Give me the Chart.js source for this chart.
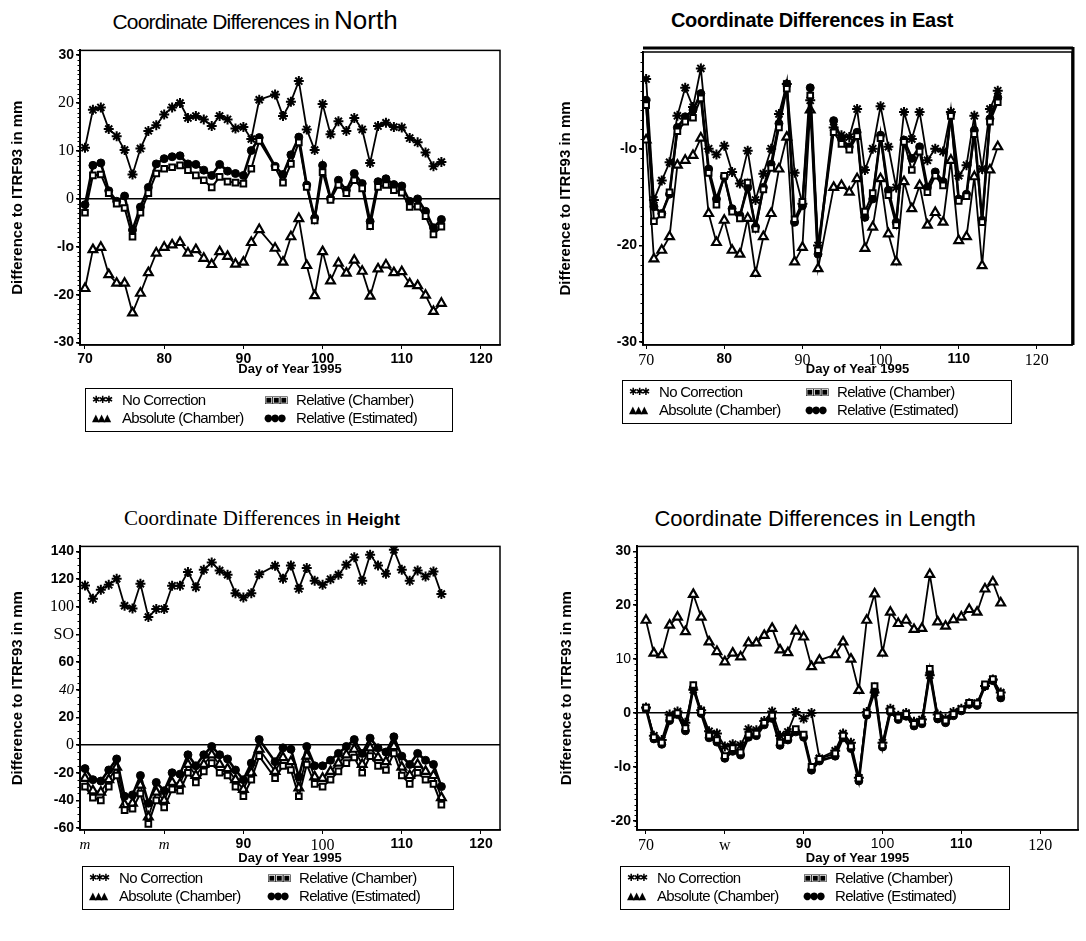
<!DOCTYPE html>
<html>
<head>
<meta charset="utf-8">
<script src="https://cdn.jsdelivr.net/npm/chart.js@4"></script>
<style>
body { margin: 0; background: #fff; width: 1086px; height: 941px; position: relative; overflow: hidden; font-family: 'Liberation Sans', Arial, sans-serif; color: #000; }
canvas { position: absolute; }
.title { position: absolute; white-space: nowrap; transform: translate(-50%, -50%); }
.legend { position: absolute; border: 1.5px solid #000; font-size: 15px; letter-spacing: -0.7px; }
.legend span { position: absolute; white-space: nowrap; line-height: 17px; }
.legend .sym { font-family: 'DejaVu Sans'; font-size: 10px; letter-spacing: -2px; }
</style>
</head>
<body>

<div class="title" style="left:255px;top:20px;font-size:21px;letter-spacing:-0.8px">Coordinate Differences in <span style="font-size:26px;letter-spacing:0">North</span></div>
<div class="title" style="left:812px;top:20px;font-size:20px;font-weight:bold;letter-spacing:-0.3px">Coordinate Differences in East</div>
<div class="title" style="left:262px;top:518px;font-family:'Liberation Serif';font-size:21px">Coordinate Differences in <span style="font-family:'Liberation Sans';font-weight:bold;font-size:17px">Height</span></div>
<div class="title" style="left:815px;top:519px;font-size:22px">Coordinate Differences in Length</div>

<canvas id="north" width="520" height="350" style="left:0;top:40px"></canvas>
<canvas id="east" width="546" height="350" style="left:540px;top:40px"></canvas>
<canvas id="height" width="520" height="335" style="left:0;top:536px"></canvas>
<canvas id="length" width="546" height="335" style="left:540px;top:536px"></canvas>

<div id="lgNorth" class="legend" style="left:85px;top:388px;width:366px;height:42px"></div>
<div id="lgEast" class="legend" style="left:622px;top:380px;width:388px;height:42px"></div>
<div id="lgHeight" class="legend" style="left:82px;top:866px;width:370px;height:42px"></div>
<div id="lgLength" class="legend" style="left:620px;top:866px;width:388px;height:42px"></div>

<script>
// day of year for each observation
const days = [70,71,72,73,74,75,76,77,78,79,80,81,82,83,84,85,86,87,88,89,90,91,92,
              94,95,96,97,98,99,100,101,102,103,104,105,106,107,108,109,110,111,112,113,114,115];

const seriesNames = ['No Correction', 'Absolute (Chamber)', 'Relative (Chamber)', 'Relative (Estimated)'];

// North
const northNoCorr = [10.7,18.6,19.1,14.6,13.1,10.2,5.1,10.5,14.2,15.4,17.6,19.1,20.0,16.9,17.3,16.6,15.2,17.3,16.6,14.7,15.0,12.5,20.7,21.8,17.3,20.3,24.6,14.5,10.2,19.8,13.5,16.2,14.2,16.9,14.5,7.5,15.2,15.9,15.0,14.9,12.7,11.8,9.7,6.8,7.7];
const northAbs = [-18.7,-10.6,-10.1,-15.8,-17.6,-17.6,-23.8,-19.7,-15.4,-11.3,-10.1,-9.6,-9.1,-11.3,-10.6,-12.4,-13.7,-11.0,-12.0,-13.6,-13.2,-9.1,-6.4,-10.3,-13.2,-7.9,-4.1,-13.9,-20.2,-11.0,-17.1,-13.4,-15.5,-12.8,-15.1,-20.3,-14.6,-13.8,-15.4,-15.2,-17.7,-18.1,-20.1,-23.5,-21.8];
const northRelCh = [-2.9,4.9,5.1,1.2,-1.0,-1.9,-7.9,-2.9,1.2,5.3,6.3,6.6,7.0,6.0,4.9,3.9,2.4,4.6,3.6,3.4,3.2,6.3,12.1,6.6,3.4,7.3,11.8,2.5,-4.5,5.6,-0.2,2.9,1.2,3.9,2.2,-5.7,2.5,2.9,1.8,1.3,-1.7,-1.6,-3.6,-7.4,-5.8];
const northRelEst = [-1.2,7.0,7.5,1.7,-0.5,0.6,-6.5,-1.7,2.4,7.3,8.4,8.8,9.0,7.3,7.2,6.0,4.9,7.2,5.8,5.3,4.9,10.1,12.8,6.8,5.1,9.2,12.9,2.9,-4.0,7.0,0.1,3.9,1.8,5.3,3.2,-4.7,3.6,4.2,3.0,2.7,-0.5,0.0,-2.6,-6.0,-4.3];

// East
const eastNoCorr = [-2.8,-15.3,-13.3,-11.4,-6.6,-3.7,-5.7,-1.7,-10.0,-10.6,-9.7,-12.4,-13.6,-10.2,-15.3,-12.6,-10.0,-6.4,-3.3,-12.5,-15.7,-5.0,-20.0,-7.8,-8.6,-8.8,-5.9,-12.2,-10.0,-5.6,-9.8,-14.0,-6.2,-9.0,-6.2,-11.2,-10.0,-10.3,-6.2,-12.8,-11.7,-6.6,-12.1,-5.9,-4.0];
const eastAbs = [-9.1,-21.4,-20.5,-19.1,-11.7,-11.2,-10.7,-8.9,-16.7,-19.7,-17.4,-20.5,-20.9,-17.2,-22.9,-19.1,-16.7,-12.1,-8.8,-21.7,-20.2,-6.0,-22.4,-14.0,-13.8,-14.5,-13.1,-20.3,-18.1,-13.1,-18.8,-21.7,-13.4,-16.2,-13.8,-17.9,-16.6,-17.6,-11.2,-19.5,-19.1,-12.9,-22.1,-12.2,-9.8];
const eastRelCh = [-5.5,-17.5,-16.8,-14.5,-8.2,-7.2,-6.8,-4.8,-12.5,-15.8,-12.8,-16.5,-17.2,-13.5,-18.3,-14.2,-12.0,-7.8,-3.8,-17.3,-15.5,-4.5,-20.5,-8.3,-9.5,-10.1,-8.7,-16.5,-14.6,-8.9,-14.8,-17.9,-9.3,-12.2,-10.3,-14.5,-12.8,-13.8,-6.6,-15.4,-14.9,-8.5,-17.6,-7.2,-5.2];
const eastRelEst = [-5.0,-16.0,-16.7,-14.7,-7.8,-6.7,-6.0,-4.3,-12.1,-15.2,-12.9,-16.2,-16.9,-14.0,-18.1,-14.0,-11.6,-7.4,-3.3,-17.6,-15.9,-3.7,-20.9,-7.1,-9.0,-9.8,-8.3,-17.1,-15.2,-8.6,-14.3,-17.6,-9.1,-11.0,-9.8,-14.0,-12.4,-13.4,-6.4,-15.2,-14.7,-8.1,-17.4,-6.9,-4.7];

// Height
const heightNoCorr = [115.5,105.8,112.3,115.9,120.3,100.8,98.8,116.7,92.6,98.4,98.4,115.2,115.2,125.1,114.2,126.8,132.1,126.3,123.2,109.9,106.8,109.9,123.6,129.7,120.3,129.9,113.0,128.0,118.8,115.9,120.0,123.2,130.4,135.9,118.8,137.6,129.9,123.9,141.2,126.8,118.8,126.3,122.0,125.6,109.2];
const heightAbs = [-24,-33,-34,-25,-16,-43,-42,-29,-52,-34,-40,-27,-28,-14,-22,-14,-7,-14,-17,-25,-32,-20,-3,-19,-9,-12,-31,-8,-23,-24,-19,-13,-7,-3,-14,-2,-9,-12,-1,-16,-22,-14,-19,-22,-38];
const heightRelCh = [-30,-38,-40,-30,-22,-47,-46,-35,-57,-40,-45,-32,-33,-20,-27,-19,-13,-20,-22,-30,-37,-25,-8,-24,-15,-18,-37,-14,-28,-30,-25,-19,-13,-9,-20,-8,-15,-18,-6,-22,-28,-20,-25,-28,-43];
const heightRelEst = [-17,-25,-26,-18,-10,-37,-36,-22,-42,-27,-33,-20,-21,-7,-15,-7,-1,-7,-10,-18,-25,-13,4,-12,-2,-3,-23,-1,-15,-15,-11,-6,-1,4,-6,5,-2,-5,6,-8,-14,-6,-11,-14,-30];

// Length
const lengthNoCorr = [1.0,-4.2,-5.0,-0.3,0.3,-1.8,4.3,0.5,-3.4,-3.8,-6.2,-5.8,-6.0,-3.0,-3.2,-1.5,0.3,-4.2,-3.5,0.2,-1.0,0.0,-8.4,-7.0,-3.8,-5.5,-12.0,0.2,3.8,-5.5,0.8,-0.5,0.0,-1.6,-1.2,7.0,-0.3,-1.0,0.2,0.8,1.8,1.8,5.0,6.2,3.8];
const lengthAbs = [17.2,11.1,10.8,16.3,17.8,15.1,22.0,17.8,13.2,11.4,9.5,11.1,10.4,13.0,13.0,14.4,15.7,11.7,11.2,15.2,14.1,8.6,9.8,10.8,13.2,10.0,4.2,17.2,22.1,11.1,18.7,16.6,17.2,15.5,15.7,25.7,16.9,16.1,17.3,17.8,19.2,18.7,23.0,24.3,20.4];
const lengthRelCh = [1.0,-4.5,-5.5,-1.0,0.0,-2.8,5.2,0.2,-4.2,-5.0,-8.0,-6.5,-7.3,-4.0,-3.8,-1.8,-0.5,-5.5,-4.6,-3.0,-4.0,-10.0,-8.5,-7.5,-4.2,-6.2,-12.2,0.0,5.0,-6.0,0.5,-0.8,-0.2,-2.0,-1.6,8.2,-0.6,-1.4,-0.2,0.7,1.9,1.8,5.3,6.3,3.6];
const lengthRelEst = [0.8,-4.8,-5.8,-1.4,-0.3,-3.3,4.6,-0.1,-4.6,-5.4,-8.4,-7.1,-7.8,-4.5,-4.2,-2.2,-1.0,-6.0,-5.0,-3.5,-4.5,-10.6,-8.9,-8.0,-4.6,-6.6,-12.6,-0.4,4.0,-6.3,0.2,-1.2,-0.6,-2.4,-2.0,7.4,-1.1,-1.8,-0.5,0.4,1.6,1.4,5.0,6.0,2.8];

// tick values and the labels as printed
const xTickVals = [70, 80, 90, 100, 110, 120];
const northXLabels = ['70', '80', '90', '100', '110', '120'];
const eastXLabels = ['70', '80', '90', '100', '110', '120'];
const heightXLabels = ['m', 'm', '90', '100', '110', '120'];
const lengthXLabels = ['70', 'w', '90', '100', '110', '120'];

const northYVals = [30, 20, 10, 0, -10, -20, -30];
const northYLabels = ['30', '20', '10', '0', '-lo', '-20', '-30'];
const eastYVals = [-10, -20, -30];
const eastYLabels = ['-lo', '-20', '-30'];
const heightYVals = [140, 120, 100, 80, 60, 40, 20, 0, -20, -40, -60];
const heightYLabels = ['140', '120', '100', 'SO', '60', '40', '20', '0', '-20', '-40', '-60'];
const lengthYVals = [30, 20, 10, 0, -10, -20];
const lengthYLabels = ['30', '20', '10', '0', '-lo', '-20'];

// fonts (the scan mixes typefaces)
const SB = { family: 'Liberation Sans', size: 14, weight: 'bold' };
const SR = { family: 'Liberation Sans', size: 14 };
const TR = { family: 'Liberation Serif', size: 16 };
const TI = { family: 'Liberation Serif', size: 15, style: 'italic' };

const northXFonts = [SB, SB, SB, SB, SB, SB];
const eastXFonts = [TR, SB, TR, TR, SB, TR];
const heightXFonts = [TI, TI, SB, TR, SB, SB];
const lengthXFonts = [TR, TR, SB, SR, SB, TR];
const northYFonts = [SB, TR, TR, TR, SB, SB, SB];
const eastYFonts = [SB, SB, SB];
const heightYFonts = [SB, SB, TR, TR, SB, TI, SB, TR, SB, SB, SB];
const lengthYFonts = [SB, SB, SR, SB, SB, SB];

const STAR = { pointStyle: 'star', pointRadius: 5, borderColor: '#000', backgroundColor: '#000', pointBorderWidth: 2, borderWidth: 1.8, order: 2 };
const TRI = { pointStyle: 'triangle', pointRadius: 5, borderColor: '#000', pointBackgroundColor: '#fff', pointBorderWidth: 2.2, borderWidth: 1.8, order: 3 };
const SQR = { pointStyle: 'rect', pointRadius: 4, borderColor: '#000', pointBackgroundColor: '#fff', pointBorderWidth: 2, borderWidth: 2, order: 0 };
const CIR = { pointStyle: 'circle', pointRadius: 4, borderColor: '#000', pointBackgroundColor: '#000', pointBorderWidth: 1, borderWidth: 2.6, order: 1 };

function series(label, arr, style) {
    return Object.assign({ label: label, data: arr.map((y, i) => ({ x: days[i], y: y })), tension: 0, fill: false }, style);
}

const framePlugin = {
    id: 'frame',
    afterDraw(chart, args, opts) {
        const { ctx, chartArea: a } = chart;
        const ys = chart.scales.y;
        ctx.save();
        ctx.strokeStyle = '#000';
        ctx.lineWidth = 1.5;
        ctx.strokeRect(a.left, a.top, a.right - a.left, a.bottom - a.top);
        // small minor ticks down the left axis
        ctx.lineWidth = 1;
        ctx.beginPath();
        for (let v = Math.ceil(ys.min / opts.minor) * opts.minor; v <= ys.max; v += opts.minor) {
            const p = Math.round(ys.getPixelForValue(v)) + 0.5;
            ctx.moveTo(a.left - 2.5, p);
            ctx.lineTo(a.left, p);
        }
        ctx.stroke();
        if (opts.double) {
            ctx.lineWidth = 3;
            ctx.beginPath();
            ctx.moveTo(a.left, a.top - 4);
            ctx.lineTo(a.right + 1, a.top - 4);
            ctx.moveTo(a.right + 1, a.top - 5);
            ctx.lineTo(a.right + 1, a.bottom);
            ctx.stroke();
        }
        ctx.restore();
    }
};

function makeChart(id, p) {
    const yv = p.yVals;
    new Chart(document.getElementById(id), {
        type: 'line',
        data: {
            datasets: [
                series(seriesNames[0], p.data[0], STAR),
                series(seriesNames[1], p.data[1], TRI),
                series(seriesNames[2], p.data[2], SQR),
                series(seriesNames[3], p.data[3], CIR)
            ]
        },
        options: {
            animation: false,
            responsive: false,
            layout: { padding: p.padding },
            plugins: {
                legend: { display: false },
                tooltip: { enabled: false },
                frame: { minor: p.minor, double: !!p.double }
            },
            scales: {
                x: {
                    type: 'linear',
                    min: p.xMin,
                    max: p.xMax,
                    afterBuildTicks: s => { s.ticks = xTickVals.map(v => ({ value: v })); },
                    afterFit: s => { s.height = p.xHeight; },
                    ticks: {
                        autoSkip: false,
                        maxRotation: 0,
                        color: '#000',
                        padding: 2,
                        callback: v => p.xLabels[xTickVals.indexOf(v)],
                        font: c => (c.tick ? p.xFonts[xTickVals.indexOf(c.tick.value)] : SB)
                    },
                    grid: { color: 'rgba(0,0,0,0)', tickColor: '#000', tickLength: 4 },
                    border: { display: true, color: '#000', width: 1.5 },
                    title: {
                        display: true,
                        text: 'Day of Year 1995',
                        color: '#000',
                        font: { family: 'Liberation Sans', size: 13, weight: 'bold' },
                        padding: { top: 0, bottom: p.xTitlePad }
                    }
                },
                y: {
                    type: 'linear',
                    min: p.yMin,
                    max: p.yMax,
                    afterBuildTicks: s => { s.ticks = yv.slice().sort((a, b) => a - b).map(v => ({ value: v })); },
                    afterFit: s => { s.width = p.yWidth; },
                    ticks: {
                        autoSkip: false,
                        color: '#000',
                        padding: 2,
                        callback: v => p.yLabels[yv.indexOf(v)],
                        font: c => (c.tick ? p.yFonts[yv.indexOf(c.tick.value)] : SB)
                    },
                    grid: {
                        color: c => (c.tick && c.tick.value === 0 ? '#000' : 'rgba(0,0,0,0)'),
                        lineWidth: 1.5,
                        tickColor: '#000',
                        tickLength: 4
                    },
                    border: { display: true, color: '#000', width: 2 },
                    title: {
                        display: true,
                        text: 'Difference to ITRF93 in mm',
                        color: '#000',
                        font: { family: 'Liberation Sans', size: 15, weight: 'bold' },
                        padding: { top: p.yTitlePad, bottom: 0 }
                    }
                }
            }
        },
        plugins: [framePlugin]
    });
}

makeChart('north', {
    data: [northNoCorr, northAbs, northRelCh, northRelEst],
    xMin: 69.37, xMax: 122.4, yMin: -30.5, yMax: 31,
    xLabels: northXLabels, xFonts: northXFonts,
    yVals: northYVals, yLabels: northYLabels, yFonts: northYFonts,
    padding: { top: 10, right: 20, left: 0, bottom: 0 },
    yWidth: 80, xHeight: 45, xTitlePad: 13, yTitlePad: 9, minor: 1
});

makeChart('east', {
    data: [eastNoCorr, eastAbs, eastRelCh, eastRelEst],
    xMin: 69.6, xMax: 124.5, yMin: -30.3, yMax: 0,
    xLabels: eastXLabels, xFonts: eastXFonts,
    yVals: eastYVals, yLabels: eastYLabels, yFonts: eastYFonts,
    padding: { top: 12, right: 14, left: 0, bottom: 0 },
    yWidth: 103, xHeight: 45, xTitlePad: 13, yTitlePad: 17, minor: 1, double: true
});

makeChart('height', {
    data: [heightNoCorr, heightAbs, heightRelCh, heightRelEst],
    xMin: 69.37, xMax: 122.4, yMin: -61.4, yMax: 143.7,
    xLabels: heightXLabels, xFonts: heightXFonts,
    yVals: heightYVals, yLabels: heightYLabels, yFonts: heightYFonts,
    padding: { top: 10, right: 20, left: 0, bottom: 0 },
    yWidth: 80, xHeight: 41, xTitlePad: 5, yTitlePad: 9, minor: 5
});

makeChart('length', {
    data: [lengthNoCorr, lengthAbs, lengthRelCh, lengthRelEst],
    xMin: 68.86, xMax: 124.8, yMin: -21.7, yMax: 30.9,
    xLabels: lengthXLabels, xFonts: lengthXFonts,
    yVals: lengthYVals, yLabels: lengthYLabels, yFonts: lengthYFonts,
    padding: { top: 10, right: 8, left: 0, bottom: 0 },
    yWidth: 97, xHeight: 41, xTitlePad: 5, yTitlePad: 18, minor: 1
});

// legend boxes
const legendSyms = ['\u2731\u2731\u2731', '\u25B2\u25B2\u25B2', '\u25A3\u25A3\u25A3', '\u25CF\u25CF\u25CF'];
function buildLegend(id, col2) {
    const el = document.getElementById(id);
    const spots = [[6, 2], [6, 20], [col2 - 32, 2], [col2 - 32, 20]];
    const textX = [36, 36, col2, col2];
    seriesNames.forEach((name, i) => {
        el.innerHTML += `<span class="sym" style="left:${spots[i][0]}px;top:${spots[i][1]}px">${legendSyms[i]}</span>` +
            `<span style="left:${textX[i]}px;top:${spots[i][1]}px">${name}</span>`;
    });
}
buildLegend('lgNorth', 210);
buildLegend('lgEast', 214);
buildLegend('lgHeight', 216);
buildLegend('lgLength', 214);
</script>
</body>
</html>
